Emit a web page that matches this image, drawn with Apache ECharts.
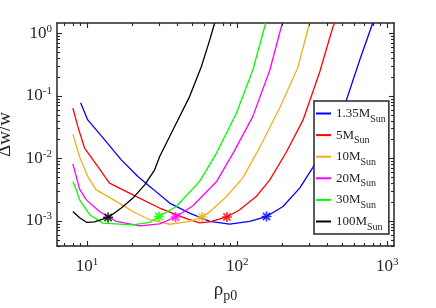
<!DOCTYPE html>
<html><head><meta charset="utf-8">
<script src="https://cdn.jsdelivr.net/npm/echarts@6/dist/echarts.min.js"></script>
<style>html,body{margin:0;padding:0;background:#fff}#c{width:436px;height:308px}</style>
</head><body><div id="c"></div>
<script>
const seriesNames = ['1.35M_Sun','5M_Sun','10M_Sun','20M_Sun','30M_Sun','100M_Sun'];
const colors = ['#0000FF','#FF0000','#EDB120','#FF00FF','#00FF00','#000000'];

const rho135 = [9.05,10.1,13.1,16.9,21.8,27.5,35.5,48.2,65.6,89.1,121,157,202,261,320,414,535,656,785,801];
const dw135  = [0.0776,0.0411,0.0197,9.42e-3,5.10e-3,3.21e-3,1.92e-3,1.33e-3,9.75e-4,8.85e-4,9.75e-4,1.17e-3,1.69e-3,3.33e-3,7.16e-3,0.0237,0.0857,0.373,1.27,1.46];
const rho5 = [8.04,8.68,9.62,11.8,14.1,20.2,30.4,45.9,56.2,65.6,85.5,104,134,165,213,275,355,435,447];
const dw5  = [0.0631,0.0321,0.0145,7.36e-3,4.0e-3,2.60e-3,1.60e-3,1.08e-3,9.29e-4,9.64e-4,1.15e-3,1.50e-3,2.44e-3,4.52e-3,0.0126,0.0411,0.240,1.27,1.46];
const rho10 = [8.04,8.91,10.1,11.5,14.1,20.2,26.1,35.5,48.2,58.4,65.6,84.7,109,141,192,253,304];
const dw10  = [0.0243,0.0106,5.10e-3,3.13e-3,2.37e-3,1.41e-3,1.04e-3,8.80e-4,9.82e-4,1.15e-3,1.39e-3,2.42e-3,4.86e-3,0.0147,0.0638,0.278,1.46];
const rho20 = [8.04,8.91,9.88,12.1,15.7,22.4,30.4,38.9,50.7,72.7,93.8,127,165,200];
const dw20  = [8.14e-3,3.21e-3,2.16e-3,1.41e-3,9.75e-4,8.32e-4,8.95e-4,1.15e-3,1.74e-3,4.20e-3,0.0120,0.0464,0.256,1.46];
const rho30 = [8.04,8.47,8.91,10.4,12.7,20.2,26.1,30.1,39.3,56.2,72.7,98.8,127,155];
const dw30  = [4.25e-3,3.13e-3,2.16e-3,1.25e-3,9.19e-4,8.63e-4,9.40e-4,1.17e-3,1.69e-3,4.28e-3,0.0120,0.0525,0.256,1.46];
const rho100 = [8.04,8.91,9.97,11.2,13.8,16.9,20.2,24.2,28.2,30.4,37.3,48.2,57.7,65.6,70.8];
const dw100  = [1.41e-3,1.12e-3,9.4e-4,9.6e-4,1.13e-3,1.60e-3,2.31e-3,3.76e-3,6.53e-3,1.06e-2,2.84e-2,9.7e-2,0.292,0.778,1.46];

const starRho = [157,85.5,58.4,38.9,30.1,13.8];
const starDw  = [1.17e-3,1.15e-3,1.15e-3,1.15e-3,1.17e-3,1.13e-3];

const xMajor = [10,100,1000];
const xMinor = [7,8,9,20,30,40,50,60,70,80,90,200,300,400,500,600,700,800,900];
const yMajor = [1e-3,1e-2,1e-1,1];
const yMinor = [4e-4,5e-4,6e-4,7e-4,8e-4,9e-4,2e-3,3e-3,4e-3,5e-3,6e-3,7e-3,8e-3,9e-3,0.02,0.03,0.04,0.05,0.06,0.07,0.08,0.09,0.2,0.3,0.4,0.5,0.6,0.7,0.8,0.9];

const X_MIN = 6.3, X_MAX = 1110, Y_MIN = 3.95e-4, Y_MAX = 1.46;

const rhoList = [rho135,rho5,rho10,rho20,rho30,rho100];
const dwList = [dw135,dw5,dw10,dw20,dw30,dw100];

const FONT = '"Liberation Serif", "Times New Roman", serif';
const AX = '#262626';
const supRich = {
  b: {fontFamily: FONT, fontSize: 17, lineHeight: 20, color: AX, verticalAlign: 'middle'},
  e: {fontFamily: FONT, fontSize: 11, lineHeight: 11, color: AX, verticalAlign: 'top', padding: [0,0,0,0]}
};
function powLabel(v){ const n = Math.round(Math.log10(v)); return '{b|10}{e|' + n + '}'; }

function mainAxis(isX, pos, showLabel){
  return {
    type: 'log', logBase: 10, gridIndex: 0, position: pos,
    min: isX ? X_MIN : Y_MIN, max: isX ? X_MAX : Y_MAX,
    axisLine: {show: true, onZero: false, lineStyle: {color: AX, width: 1.5}},
    axisTick: {show: false},
    axisLabel: showLabel ? {show: true, customValues: isX ? xMajor : yMajor, formatter: powLabel, rich: supRich,
      fontFamily: FONT, fontSize: 17, color: AX, margin: isX ? 11 : 5} : {show: false},
    splitLine: {show: false}, minorTick: {show: false}, minorSplitLine: {show: false}
  };
}

const xAxes = [mainAxis(true,'bottom',true), mainAxis(true,'top',false)];
const yAxes = [mainAxis(false,'left',true), mainAxis(false,'right',false)];

xAxes[0].name = '{r|ρ}{s|p0}';
xAxes[0].nameLocation = 'middle';
xAxes[0].nameGap = 34;
xAxes[0].nameTextStyle = {fontFamily: FONT, fontSize: 18, color: AX, rich: {
  r: {fontFamily: FONT, fontSize: 19, lineHeight: 20, color: AX, verticalAlign: 'middle'},
  s: {fontFamily: FONT, fontSize: 14, lineHeight: 14, padding: [9,0,0,0], color: AX, verticalAlign: 'top'}
}};
yAxes[0].name = 'Δw/w';
yAxes[0].nameLocation = 'middle';
yAxes[0].nameGap = 36;
yAxes[0].nameRotate = 90;
yAxes[0].nameTextStyle = {fontFamily: FONT, fontSize: 19, color: AX};

// inside ticks on all four sides, placed through the axes' own scales
function tickSeries(vals, isX, len){
  return {
    type: 'custom', xAxisIndex: 0, yAxisIndex: 0, silent: true, clip: false, z: 6,
    data: vals.map(v => isX ? [v, Y_MIN] : [X_MIN, v]),
    renderItem: function(params, api){
      const st = {stroke: AX, lineWidth: 1.1, fill: null};
      if (isX) {
        const b = api.coord([api.value(0), Y_MIN]);
        const t = api.coord([api.value(0), Y_MAX]);
        const x = Math.round(b[0]) + 0.5;
        return {type: 'group', children: [
          {type: 'line', shape: {x1: x, y1: b[1], x2: x, y2: b[1] - len}, style: st},
          {type: 'line', shape: {x1: x, y1: t[1], x2: x, y2: t[1] + len}, style: st}
        ]};
      } else {
        const l = api.coord([X_MIN, api.value(1)]);
        const r = api.coord([X_MAX, api.value(1)]);
        const y = Math.round(l[1]) + 0.5;
        return {type: 'group', children: [
          {type: 'line', shape: {x1: l[0], y1: y, x2: l[0] + len, y2: y}, style: st},
          {type: 'line', shape: {x1: r[0], y1: y, x2: r[0] - len, y2: y}, style: st}
        ]};
      }
    }
  };
}

const series = [];
seriesNames.forEach((nm, i) => {
  series.push({
    name: nm, type: 'line', xAxisIndex: 0, yAxisIndex: 0,
    data: rhoList[i].map((r, k) => [r, dwList[i][k]]),
    showSymbol: false, symbol: 'none', smooth: false,
    lineStyle: {color: colors[i], width: 1.3}, itemStyle: {color: colors[i]},
    z: 2
  });
});
seriesNames.forEach((nm, i) => {
  series.push({
    type: 'scatter', xAxisIndex: 0, yAxisIndex: 0,
    data: [[starRho[i], starDw[i]]],
    symbol: 'path://M0,-5L0,5M-5,0L5,0M-3.6,-3.6L3.6,3.6M-3.6,3.6L3.6,-3.6',
    symbolSize: 10,
    itemStyle: {color: 'none', borderColor: colors[i], borderWidth: 1.7},
    z: 5
  });
});
series.push(tickSeries(xMajor, true, 5));
series.push(tickSeries(xMinor, true, 3));
series.push(tickSeries(yMajor, false, 5));
series.push(tickSeries(yMinor, false, 3));

const chart = echarts.init(document.getElementById('c'), null, {renderer: 'canvas'});
chart.setOption({
  animation: false,
  backgroundColor: '#fff',
  grid: {left: 57, top: 23, width: 337, height: 223, containLabel: false, outerBoundsMode: 'none'},
  xAxis: xAxes,
  yAxis: yAxes,
  legend: {
    data: seriesNames, orient: 'vertical', left: 314, top: 101,
    icon: 'rect', itemWidth: 15, itemHeight: 2, itemGap: 0.6, itemTextGap: 1,
    padding: [2, 3, 2, 2],
    backgroundColor: '#fff', borderColor: AX, borderWidth: 1.5, borderRadius: 0,
    formatter: function(name){ return '{m|' + name.split('_')[0] + '}{s|Sun}'; },
    textStyle: {fontFamily: FONT, fontSize: 13, color: AX, rich: {
      m: {fontFamily: FONT, fontSize: 13, lineHeight: 21, color: AX, verticalAlign: 'middle'},
      s: {fontFamily: FONT, fontSize: 10, lineHeight: 10, padding: [11,0,0,0], color: AX, verticalAlign: 'top'}
    }},
    z: 10
  },
  series: series
});
</script></body></html>
